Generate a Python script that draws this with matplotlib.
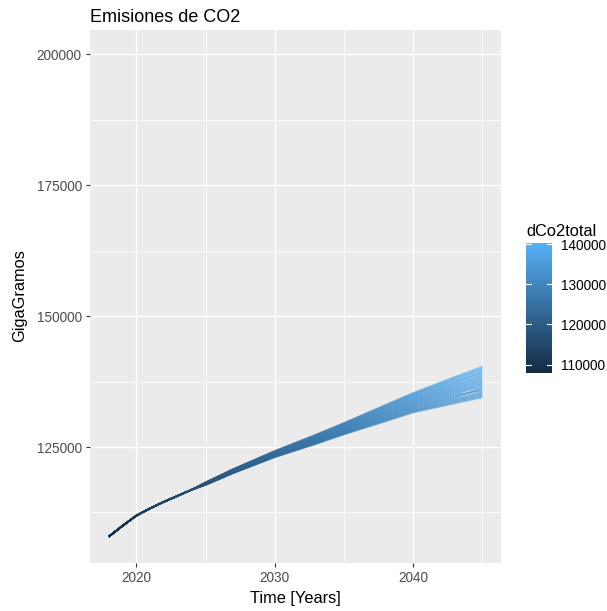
import numpy as np
import matplotlib.pyplot as plt
from matplotlib.collections import LineCollection
from matplotlib.colors import LinearSegmentedColormap, Normalize

plt.rcParams['font.family'] = ['Liberation Sans', 'DejaVu Sans']

# Historical part shared by every simulation run
years_hist = [2018, 2019, 2020, 2021, 2022, 2023, 2024]
co2_hist = [107880, 109950, 111900, 113300, 114550, 115700, 116850]

# Projection years and one row per simulation run (GigaGramos)
years_proj = [2025, 2027, 2030, 2033, 2035, 2038, 2040, 2043, 2045]
runs = [
    [117750, 120000, 123050, 125600, 127400, 129900, 131600, 133340, 134500],
    [117770, 120030, 123100, 125680, 127500, 130040, 131770, 133560, 134750],
    [117790, 120070, 123150, 125760, 127590, 130180, 131930, 133780, 135010],
    [117820, 120100, 123210, 125830, 127690, 130320, 132100, 134000, 135260],
    [117840, 120140, 123260, 125910, 127780, 130460, 132260, 134210, 135520],
    [117860, 120170, 123310, 125990, 127880, 130600, 132430, 134430, 136280],
    [117880, 120210, 123360, 126070, 127970, 130730, 132590, 134650, 136030],
    [117900, 120240, 123420, 126150, 128070, 130870, 132760, 134870, 135770],
    [117920, 120280, 123470, 126230, 128170, 131010, 132920, 135090, 136530],
    [117950, 120310, 123520, 126300, 128260, 131150, 133090, 135310, 136790],
    [117970, 120350, 123570, 126380, 128360, 131290, 133250, 135530, 137040],
    [117990, 120380, 123620, 126460, 128450, 131430, 133420, 135750, 137300],
    [118010, 120420, 123680, 126540, 128550, 131570, 133580, 135960, 137550],
    [118030, 120450, 123730, 126620, 128640, 131710, 133750, 136180, 137800],
    [118050, 120490, 123780, 126700, 128740, 131850, 133910, 136400, 138060],
    [118080, 120520, 123830, 126770, 128830, 131990, 134080, 136620, 138310],
    [118100, 120560, 123890, 126850, 128930, 132130, 134240, 136840, 138570],
    [118120, 120590, 123940, 126930, 129030, 132270, 134410, 137060, 138820],
    [118140, 120630, 123990, 127010, 129120, 132400, 134570, 137280, 139330],
    [118160, 120660, 124040, 127090, 129220, 132540, 134740, 137500, 139100],
    [118180, 120700, 124090, 127170, 129310, 132680, 134900, 137720, 139590],
    [118210, 120730, 124150, 127240, 129410, 132800, 135030, 137930, 139840],
    [118230, 120770, 124200, 127320, 129500, 132920, 135170, 138150, 140090],
    [118250, 120800, 124250, 127400, 129600, 133040, 135310, 138370, 140350],
]

legend_ticks = [110000, 120000, 130000, 140000]

cmap = LinearSegmentedColormap.from_list('gg_blue', ['#132B43', '#56B1F7'])
all_vals = co2_hist + [v for r in runs for v in r]
norm = Normalize(vmin=min(all_vals), vmax=max(all_vals))

fig = plt.figure(figsize=(6.07, 6.11), dpi=100)
ax = fig.add_axes([90 / 607, 1 - 563 / 611, 411 / 607, 533 / 611])
ax.set_facecolor('#EBEBEB')
for s in ax.spines.values():
    s.set_visible(False)

# each run coloured along its length by its own value
segs, cols = [], []
for r in runs:
    x = np.array(years_hist + years_proj, dtype=float)
    y = np.array(co2_hist + r, dtype=float)
    for i in range(len(x) - 1):
        xs = np.linspace(x[i], x[i + 1], 9)
        ys = np.linspace(y[i], y[i + 1], 9)
        for j in range(8):
            segs.append([(xs[j], ys[j]), (xs[j + 1], ys[j + 1])])
            cols.append(cmap(norm(ys[j])))
lc = LineCollection(segs, colors=cols, linewidths=1.2, alpha=0.65, capstyle='butt')
ax.add_collection(lc)

ax.set_xlim(2016.65, 2046.35)
ax.set_ylim(102860, 204600)
ax.set_xticks([2020, 2030, 2040])
ax.set_xticks([2025, 2035, 2045], minor=True)
ax.set_yticks([125000, 150000, 175000, 200000])
ax.set_yticks([112500, 137500, 162500, 187500], minor=True)
ax.grid(which='major', color='white', linewidth=0.95)
ax.grid(which='minor', color='white', linewidth=0.5)
ax.set_axisbelow(True)
ax.tick_params(which='major', length=2.9, width=0.8, color='#333333',
               labelcolor='#4D4D4D', labelsize=9.8, pad=3)
ax.tick_params(which='minor', length=0)

fig.text(90 / 607, 1 - 22 / 611, 'Emisiones de CO2', fontsize=13, ha='left', va='baseline')
fig.text(295.5 / 607, 1 - 603 / 611, 'Time [Years]', fontsize=11.8, ha='center', va='baseline')
fig.text(20 / 607, 1 - 296 / 611, 'GigaGramos', fontsize=11.8, ha='center', va='center',
         rotation=90)

# colour bar legend
cax = fig.add_axes([526 / 607, 1 - 373 / 611, 26 / 607, 130 / 611])
grad = np.linspace(norm.vmin, norm.vmax, 300).reshape(-1, 1)
cax.imshow(grad, aspect='auto', cmap=cmap, norm=norm, origin='lower',
           extent=[0, 1, norm.vmin, norm.vmax])
cax.set_xlim(0, 1)
cax.set_ylim(norm.vmin, norm.vmax)
for t in legend_ticks:
    cax.plot([0, 0.2], [t, t], color='white', linewidth=0.8)
    cax.plot([0.8, 1], [t, t], color='white', linewidth=0.8)
cax.set_xticks([])
cax.yaxis.tick_right()
cax.set_yticks(legend_ticks)
cax.tick_params(axis='y', length=0, pad=6.5, labelsize=9.8, labelcolor='black')
for s in cax.spines.values():
    s.set_visible(False)
fig.text(526 / 607, 1 - 236.5 / 611, 'dCo2total', fontsize=11.8, ha='left', va='baseline')

fig.savefig('out.png', dpi=100)
